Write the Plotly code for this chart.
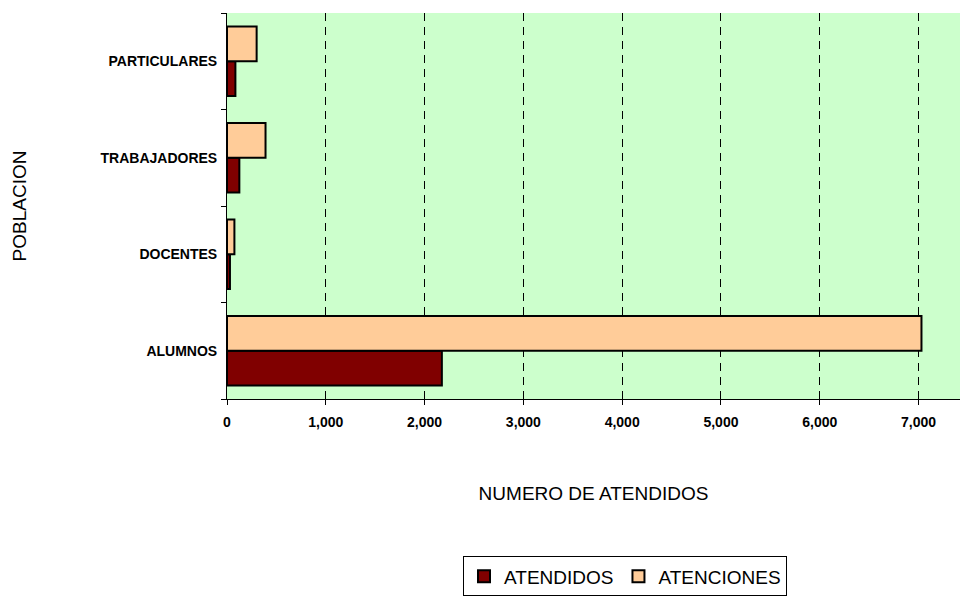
import plotly.graph_objects as go

# Población atendida: número de atendidos y de atenciones por grupo
categorias = ["ALUMNOS", "DOCENTES", "TRABAJADORES", "PARTICULARES"]
atendidos = [2175, 30, 125, 85]
atenciones = [7030, 75, 390, 300]

COLOR_ATENDIDOS = "#800000"
COLOR_ATENCIONES = "#FFCC99"
FONDO_GRAFICO = "#CCFFCC"

fig = go.Figure()
fig.add_trace(go.Bar(
    y=categorias, x=atendidos, name="ATENDIDOS", orientation="h",
    marker=dict(color=COLOR_ATENDIDOS, line=dict(color="black", width=2)),
))
fig.add_trace(go.Bar(
    y=categorias, x=atenciones, name="ATENCIONES", orientation="h",
    marker=dict(color=COLOR_ATENCIONES, line=dict(color="black", width=2)),
))

fig.update_layout(
    width=960, height=598,
    margin=dict(l=226.5, r=0, t=13, b=199),
    paper_bgcolor="white",
    plot_bgcolor=FONDO_GRAFICO,
    barmode="group", bargap=0.28, bargroupgap=0,
    font=dict(family="Arial, Liberation Sans, sans-serif", color="black"),
    showlegend=True,
    legend=dict(
        orientation="h", x=0.322, xanchor="left", y=-0.408, yanchor="top",
        bordercolor="black", borderwidth=1, bgcolor="white",
        font=dict(size=19), traceorder="normal",
        itemsizing="constant",
    ),
    xaxis=dict(
        range=[0, 7420],
        tickvals=[0, 1000, 2000, 3000, 4000, 5000, 6000, 7000],
        tickformat=",d",
        tickfont=dict(size=14, family="Arial, Liberation Sans, sans-serif", weight="bold"),
        ticks="outside", ticklen=5, tickcolor="black",
        ticklabelstandoff=5,
        showline=True, linecolor="black", linewidth=1,
        showgrid=True, gridcolor="black", gridwidth=1, griddash="8px,6px",
        zeroline=False,
        title=dict(text="NUMERO DE ATENDIDOS", font=dict(size=19), standoff=57),
    ),
    yaxis=dict(
        categoryorder="array", categoryarray=categorias,
        tickfont=dict(size=14, family="Arial, Liberation Sans, sans-serif", weight="bold"),
        ticks="outside", ticklen=5, tickcolor="black", tickson="boundaries",
        ticklabelstandoff=6,
        showline=True, linecolor="black", linewidth=1,
        showgrid=False, zeroline=False,
        title=dict(text="POBLACION", font=dict(size=19), standoff=68),
    ),
)

fig.write_html("out.html")
